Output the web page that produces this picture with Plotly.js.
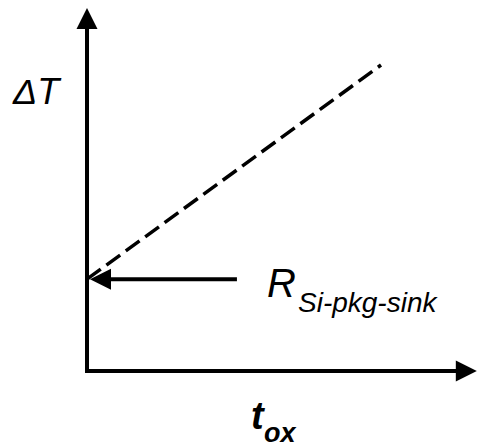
<!DOCTYPE html>
<html>
<head>
<meta charset="utf-8">
<script src="https://cdn.plot.ly/plotly-3.0.1.min.js"></script>
<style>html,body{margin:0;padding:0;background:#fff;}#chart{width:478px;height:448px;}</style>
</head>
<body>
<div id="chart"></div>
<script>
// Conceptual data (arbitrary units): thermal rise vs oxide thickness
const tox = [0, 1.0];              // dashed line x (t_ox)
const deltaT = [0.30, 1.0];        // dashed line y (ΔT); intercept = R_Si-pkg-sink
const interceptY = [0.30, 0.30];   // level of the pointer arrow
const pointerX = [0.51, 0.03];     // pointer arrow shaft from label to axis
const pointerTip = [0.0102];
const axisX = [0, 0, 1.30];        // drawn axes: vertical then horizontal
const axisY = [1.13, 0, 0];
const arrowUpAt = {x: [0], y: [1.186]};
const arrowRightAt = {x: [1.326], y: [0]};

const W = 478, H = 448;
const px = v => v / W;
const py = v => 1 - v / H;
const font = 'Liberation Sans, Arial, sans-serif';

const traces = [
  {x: axisX, y: axisY, mode: 'lines', line: {color: '#000', width: 4}, hoverinfo: 'skip', cliponaxis: false},
  {x: arrowUpAt.x, y: arrowUpAt.y, mode: 'markers', marker: {symbol: 'arrow-up', size: 21, color: '#000', line: {width: 0}}, cliponaxis: false},
  {x: arrowRightAt.x, y: arrowRightAt.y, mode: 'markers', marker: {symbol: 'arrow-right', size: 21, color: '#000', line: {width: 0}}, cliponaxis: false},
  {x: tox, y: deltaT, mode: 'lines', line: {color: '#000', width: 3.5, dash: '17px,7px'}},
  {x: pointerX, y: interceptY, mode: 'lines', line: {color: '#000', width: 4}},
  {x: pointerTip, y: [interceptY[0]], mode: 'markers', marker: {symbol: 'arrow-left', size: 21, color: '#000', line: {width: 0}}, cliponaxis: false}
];

const layout = {
  width: W, height: H, autosize: false,
  margin: {l: 0, r: 0, t: 0, b: 0},
  paper_bgcolor: '#fff', plot_bgcolor: '#fff',
  showlegend: false,
  xaxis: {range: [-87/294, 391/294], visible: false, showgrid: false, zeroline: false, fixedrange: true},
  yaxis: {range: [-77/306, 371/306], visible: false, showgrid: false, zeroline: false, fixedrange: true},
  annotations: [
    {xref: 'paper', yref: 'paper', x: px(37), y: py(91.5), xanchor: 'center', yanchor: 'middle', showarrow: false,
     text: '<i>ΔT</i>', font: {family: font, size: 36, color: '#000'}},
    {xref: 'paper', yref: 'paper', x: px(265), y: py(283), xanchor: 'left', yanchor: 'middle', showarrow: false,
     text: '<i>R</i>', font: {family: font, size: 40, color: '#000'}},
    {xref: 'paper', yref: 'paper', x: px(296), y: py(302), xanchor: 'left', yanchor: 'middle', showarrow: false,
     text: '<i>Si-pkg-sink</i>', font: {family: font, size: 28, color: '#000'}},
    {xref: 'paper', yref: 'paper', x: px(249), y: py(416), xanchor: 'left', yanchor: 'middle', showarrow: false,
     text: '<b><i>t</i></b>', font: {family: font, size: 38, color: '#000'}},
    {xref: 'paper', yref: 'paper', x: px(262), y: py(433), xanchor: 'left', yanchor: 'middle', showarrow: false,
     text: '<b><i>ox</i></b>', font: {family: font, size: 27, color: '#000'}}
  ]
};

Plotly.newPlot('chart', traces, layout, {staticPlot: true, displayModeBar: false});
</script>
</body>
</html>
